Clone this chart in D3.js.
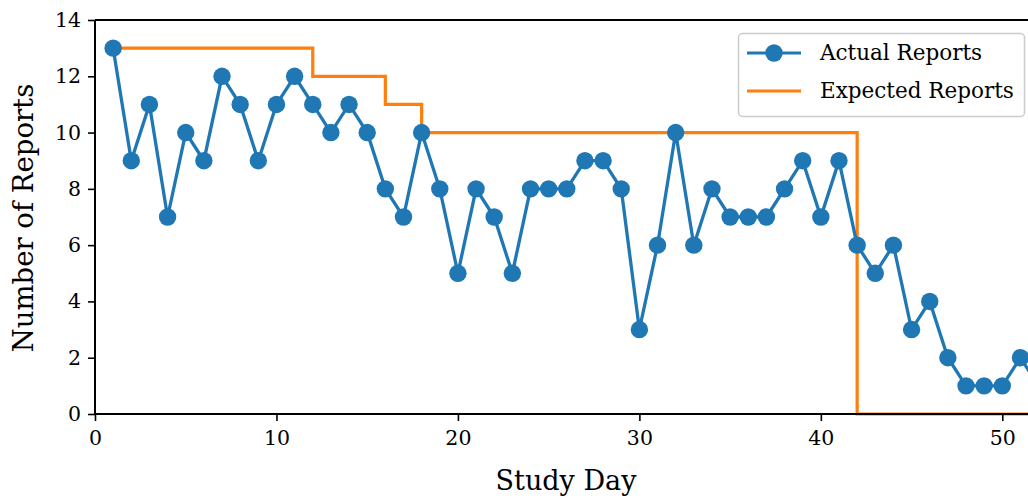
<!DOCTYPE html>
<html>
<head>
<meta charset="utf-8">
<script src="https://cdn.jsdelivr.net/npm/d3@7"></script>
<style>
body{margin:0;background:#fff;}
svg text{font-family:"DejaVu Serif",serif;fill:#000;}
</style>
</head>
<body>
<svg id="chart" width="1028" height="498"></svg>
<script>
// data
const days = d3.range(1, 53);
const actual = [13,9,11,7,10,9,12,11,9,11,12,11,10,11,10,8,7,10,8,5,8,7,5,8,8,8,9,9,8,3,6,10,6,8,7,7,7,8,9,7,9,6,5,6,3,4,2,1,1,1,2,1];
const expDays = [1,12,16,18,42,53];
const expected = [13,12,11,10,0,0];
const xTicks = [0,10,20,30,40,50];
const yTicks = [0,2,4,6,8,10,12,14];

const svg = d3.select("#chart");
const mLeft = 95, mTop = 20, mBottom = 414, mRight = 1040;

const x = d3.scaleLinear().domain([0,50]).range([mLeft,1002.3]);
const y = d3.scaleLinear().domain([0,14]).range([mBottom,mTop]);

svg.append("clipPath").attr("id","clip").append("rect")
  .attr("x",mLeft).attr("y",mTop-12).attr("width",mRight-mLeft).attr("height",mBottom-mTop+24);

// top spine
svg.append("line").attr("x1",mLeft).attr("x2",mRight).attr("y1",mTop).attr("y2",mTop).attr("stroke","#000").attr("stroke-width",2);

// expected step line
const stepLine = d3.line().x(d => x(d[0])).y(d => y(d[1])).curve(d3.curveStepAfter);
svg.append("path").attr("clip-path","url(#clip)")
  .attr("d", stepLine(expDays.map((d,i) => [d, expected[i]])))
  .attr("fill","none").attr("stroke","#ff7f0e").attr("stroke-width",3.2);

// actual
const g = svg.append("g").attr("clip-path","url(#clip)");
const line = d3.line().x((d,i) => x(days[i])).y(d => y(d));
g.append("path").attr("d", line(actual)).attr("fill","none").attr("stroke","#1f77b4").attr("stroke-width",3.3);
g.selectAll("circle").data(actual).join("circle")
  .attr("cx",(d,i) => x(days[i])).attr("cy",d => y(d)).attr("r",8.7).attr("fill","#1f77b4");

// axes
const xAxis = svg.append("g").attr("transform",`translate(0,${mBottom})`)
  .call(d3.axisBottom(x).tickValues(xTicks).tickSize(7).tickPadding(9));
xAxis.select(".domain").attr("d",`M${mLeft},0H${mRight}`).attr("stroke-width",2);
const yAxis = svg.append("g").attr("transform",`translate(${mLeft},0)`)
  .call(d3.axisLeft(y).tickValues(yTicks).tickSize(7).tickPadding(7));
yAxis.select(".domain").attr("d",`M0,${mTop}V${mBottom}`).attr("stroke-width",2);
svg.selectAll(".tick line").attr("stroke-width",1.6);
svg.selectAll(".tick text").style("font-size","20.5px").style("font-family","DejaVu Serif");

svg.append("text").attr("x",566).attr("y",490).attr("text-anchor","middle").style("font-size","27px").text("Study Day");
svg.append("text").attr("transform","translate(33,218) rotate(-90)").attr("text-anchor","middle").style("font-size","27.5px").text("Number of Reports");

// legend
const lg = svg.append("g");
lg.append("rect").attr("x",738.5).attr("y",33.5).attr("width",286).attr("height",83).attr("rx",4)
  .attr("fill","#fff").attr("fill-opacity",0.8).attr("stroke","#ccc").attr("stroke-width",1.5);
const items = ["Actual Reports","Expected Reports"];
const colors = ["#1f77b4","#ff7f0e"];
items.forEach((t,i) => {
  const yy = 53 + i*38;
  lg.append("line").attr("x1",747).attr("x2",801).attr("y1",yy).attr("y2",yy).attr("stroke",colors[i]).attr("stroke-width",3.2);
  if (i === 0) lg.append("circle").attr("cx",774).attr("cy",yy).attr("r",8.7).attr("fill",colors[i]);
  lg.append("text").attr("x",820).attr("y",yy+7).style("font-size","21.5px").text(t);
});
</script>
</body>
</html>
